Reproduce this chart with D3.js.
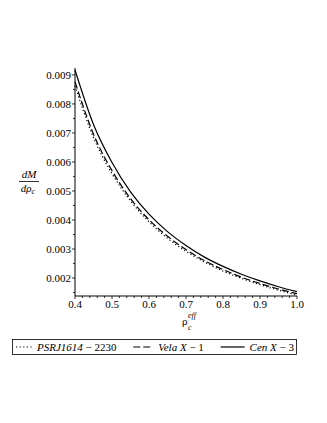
<!DOCTYPE html>
<html><head><meta charset="utf-8">
<script src="https://cdn.jsdelivr.net/npm/d3@7"></script>
<style>body{margin:0;background:#fff}svg{display:block}</style>
</head><body><svg id="c" width="327" height="423" font-family="'Liberation Serif','Times New Roman',Times,'DejaVu Serif',serif"></svg>
<script>
const rhoValues = [0.40,0.45,0.50,0.55,0.60,0.65,0.70,0.75,0.80,0.85,0.90,0.95,1.00];
const cenX3   = [0.00917,0.00729,0.00598,0.00497,0.00420,0.00360,0.00312,0.00272,0.00240,0.00213,0.00190,0.00170,0.00153];
const velaX1  = [0.00876,0.00696,0.00570,0.00474,0.00401,0.00344,0.00298,0.00260,0.00229,0.00203,0.00181,0.00162,0.00146];
const psrJ1614= [0.00862,0.00684,0.00560,0.00466,0.00394,0.00337,0.00292,0.00255,0.00224,0.00199,0.00177,0.00158,0.00141];
const xTicks = [0.4,0.5,0.6,0.7,0.8,0.9,1.0];
const yTicks = [0.002,0.003,0.004,0.005,0.006,0.007,0.008,0.009];
const legendLabels = [["PSRJ1614"," \u2212 2230"],["Vela X"," \u2212 1"],["Cen X"," \u2212 3"]];

const svg = d3.select("#c");
const x = d3.scaleLinear().domain([0.4,1.0]).range([75,297]);
const y = d3.scaleLinear().domain([0.00138,0.00917]).range([296,70]);

// axes
svg.append("line").attr("x1",75).attr("x2",297).attr("y1",296).attr("y2",296).attr("stroke","#000").attr("stroke-width",1);
svg.append("line").attr("x1",75).attr("x2",75).attr("y1",296).attr("y2",68).attr("stroke","#000").attr("stroke-width",1);

const minorX = d3.range(0.4,1.001,0.02);
svg.selectAll(".mx").data(minorX).enter().append("line")
  .attr("x1",d=>x(d)).attr("x2",d=>x(d)).attr("y1",296).attr("y2",d=>Math.abs(Math.round(d*10)-d*10)<1e-6?299:298)
  .attr("stroke","#000").attr("stroke-width",0.8);
svg.selectAll(".xl").data(xTicks).enter().append("text")
  .attr("x",d=>x(d)).attr("y",308).attr("text-anchor","middle").attr("font-size",11)
  .text(d=>d.toFixed(1));

const minorY = d3.range(0.0015,0.00917,0.0005);
svg.selectAll(".my").data(minorY).enter().append("line")
  .attr("x1",75).attr("x2",d=>Math.abs(Math.round(d*1000)-d*1000)<1e-6?72:73).attr("y1",d=>y(d)).attr("y2",d=>y(d))
  .attr("stroke","#000").attr("stroke-width",0.8);
svg.selectAll(".yl").data(yTicks).enter().append("text")
  .attr("x",71).attr("y",d=>y(d)+4).attr("text-anchor","end").attr("font-size",11)
  .text(d=>d.toFixed(3));

// y label fraction
const yl = svg.append("g");
yl.append("text").attr("x",29).attr("y",178).attr("text-anchor","middle").attr("font-size",11).attr("font-style","italic").text("dM");
yl.append("line").attr("x1",19).attr("x2",39).attr("y1",181.5).attr("y2",181.5).attr("stroke","#000").attr("stroke-width",0.8);
const dn = yl.append("text").attr("x",28).attr("y",192).attr("text-anchor","middle").attr("font-size",11).attr("font-style","italic");
dn.append("tspan").text("dρ");
dn.append("tspan").attr("font-size",8).attr("dy",2).text("c");

// x label
svg.append("text").attr("x",182).attr("y",325).attr("font-size",11).text("ρ");
svg.append("text").attr("x",188).attr("y",318).attr("font-size",8).attr("font-style","italic").text("eff");
svg.append("text").attr("x",188).attr("y",330).attr("font-size",8).attr("font-style","italic").text("c");

// curves
const styles = [
  {data:psrJ1614, dash:"1.2,2.4"},
  {data:velaX1, dash:"7,3"},
  {data:cenX3, dash:null}
];
const line = d3.line().x((d,i)=>x(rhoValues[i])).y(d=>y(d)).curve(d3.curveMonotoneX);
styles.forEach(s=>{
  const p = svg.append("path").attr("d",line(s.data)).attr("fill","none").attr("stroke","#000").attr("stroke-width",1.2);
  if(s.dash) p.attr("stroke-dasharray",s.dash);
});

// legend
const lg = svg.append("g");
const bx0 = 12, bx1 = 296;
lg.append("rect").attr("x",bx0+0.5).attr("y",339.5).attr("width",bx1-bx0).attr("height",15).attr("fill","none").attr("stroke","#000").attr("stroke-width",0.8);
const lineLens = [16,20,24];
const texts = legendLabels.map(lab=>{
  const t = lg.append("text").attr("y",351).attr("font-size",11);
  t.append("tspan").attr("font-style","italic").text(lab[0]);
  t.append("tspan").text(lab[1]);
  return t;
});
const widths = texts.map(t=>t.node().getComputedTextLength());
const used = d3.sum(widths)+d3.sum(lineLens);
const gapIn = 5;
const gapBetween = (bx1-bx0-6 - used - 3*gapIn)/2;
let cx = bx0+4;
styles.forEach((s,k)=>{
  const l = lg.append("line").attr("x1",cx).attr("x2",cx+lineLens[k]).attr("y1",347).attr("y2",347).attr("stroke","#000").attr("stroke-width",1.2);
  if(s.dash) l.attr("stroke-dasharray",s.dash);
  cx += lineLens[k]+gapIn;
  texts[k].attr("x",cx);
  cx += widths[k]+gapBetween;
});
</script></body></html>
